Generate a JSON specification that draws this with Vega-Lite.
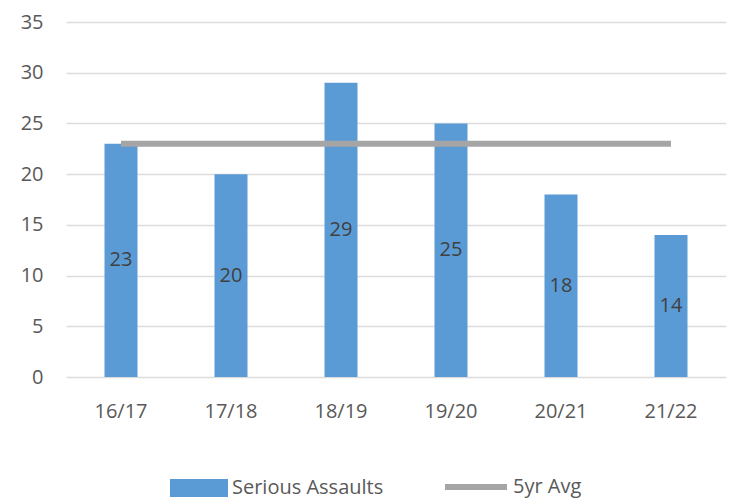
{
  "$schema": "https://vega.github.io/schema/vega-lite/v6.json",
  "width": 660,
  "height": 355,
  "autosize": {"type": "none"},
  "padding": {"left": 66, "top": 22, "right": 10, "bottom": 123},
  "background": "#ffffff",
  "config": {
    "view": {"stroke": null},
    "font": "Open Sans",
    "axis": {"labelFont": "Open Sans", "labelColor": "#595959", "labelFontSize": 20}
  },
  "data": {
    "values": [
      {"year": "16/17", "value": 23, "avg": 23},
      {"year": "17/18", "value": 20, "avg": 23},
      {"year": "18/19", "value": 29, "avg": 23},
      {"year": "19/20", "value": 25, "avg": 23},
      {"year": "20/21", "value": 18, "avg": 23},
      {"year": "21/22", "value": 14, "avg": 23}
    ]
  },
  "encoding": {
    "x": {
      "field": "year", "type": "nominal", "sort": null,
      "scale": {"paddingInner": 0.7, "paddingOuter": 0.35},
      "axis": {"title": null, "labelAngle": 0, "domain": false, "ticks": false, "labelPadding": 24, "grid": false}
    }
  },
  "layer": [
    {
      "mark": {"type": "bar", "color": "#5b9bd5"},
      "encoding": {
        "y": {
          "field": "value", "type": "quantitative",
          "scale": {"domain": [0, 35]},
          "axis": {"title": null, "values": [0, 5, 10, 15, 20, 25, 30, 35], "domain": false, "ticks": false, "labelPadding": 23, "gridColor": "#dcdcdc", "gridWidth": 1.5}
        },
        "fill": {
          "datum": "Serious Assaults",
          "scale": {"range": ["#5b9bd5"]},
          "legend": {
            "title": null, "orient": "none", "legendX": 104, "legendY": 437,
            "symbolType": "M-1,-0.31H1V0.31H-1Z", "symbolSize": 3364,
            "symbolStrokeWidth": 0, "labelFontSize": 20, "labelColor": "#595959", "labelFont": "Open Sans", "labelOffset": 4
          }
        }
      }
    },
    {
      "mark": {"type": "line", "strokeWidth": 6, "color": "#a5a5a5"},
      "encoding": {
        "y": {"field": "avg", "type": "quantitative"},
        "stroke": {
          "datum": "5yr Avg",
          "scale": {"range": ["#a5a5a5"]},
          "legend": {
            "title": null, "orient": "none", "legendX": 376, "legendY": 431,
            "symbolType": "M-1,0H1", "symbolSize": 3844, "symbolStrokeWidth": 6,
            "labelFontSize": 20, "labelColor": "#595959", "labelFont": "Open Sans", "labelOffset": 3
          }
        }
      }
    },
    {
      "transform": [{"calculate": "datum.value / 2", "as": "mid"}],
      "mark": {"type": "text", "fontSize": 20, "color": "#404040", "font": "Open Sans"},
      "encoding": {
        "y": {"field": "mid", "type": "quantitative"},
        "text": {"field": "value", "type": "quantitative"}
      }
    }
  ]
}
